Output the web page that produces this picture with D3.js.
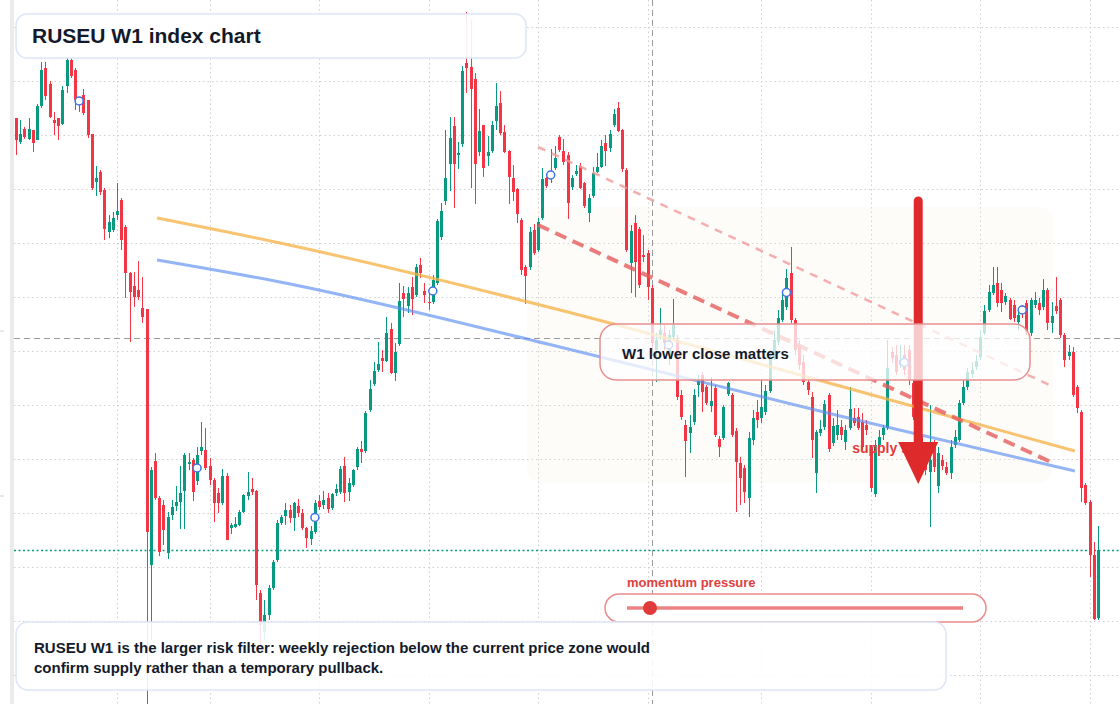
<!DOCTYPE html>
<html>
<head>
<meta charset="utf-8">
<script src="https://cdn.jsdelivr.net/npm/d3@7"></script>
<style>
  html, body { margin: 0; padding: 0; background: #fff; }
  svg { display: block; font-family: "Liberation Sans", Arial, sans-serif; }
</style>
</head>
<body>
<svg id="chart" width="1120" height="704"></svg>
<script>
// weekly candles, [open, high, low, close] in index points
const candles = [
  [882,882,845,860],[858,880,856,866],[871,873,861,863],[861,882,860,871],[870,870,848,857],
  [860,896,860,894],[894,938,892,930],[932,938,900,904],[916,919,882,883],[880,888,865,877],
  [882,882,860,874],[876,914,875,910],[914,942,907,940],[940,942,922,924],[930,932,890,900],
  [903,903,888,895],[905,911,885,887],[900,900,862,865],[866,866,810,812],[818,834,804,822],
  [828,830,805,808],[810,812,760,771],[768,785,762,778],[770,788,768,782],[785,817,780,789],
  [800,802,750,760],[773,775,702,727],[727,728,658,708],[714,728,693,703],[710,739,700,703],
  [692,723,677,683],[691,691,280,468],[435,533,360,530],[539,547,500,502],[502,504,444,448],
  [495,500,455,470],[447,488,441,483],[485,500,480,493],[494,514,489,498],[498,534,471,507],
  [509,547,471,545],[536,547,530,538],[540,542,499,508],[519,553,515,545],[549,578,545,553],
  [550,572,530,532],[534,542,515,520],[520,522,478,497],[507,512,487,497],[497,531,495,524],
  [524,527,460,460],[472,477,466,475],[473,483,472,476],[475,490,474,488],[488,506,487,505],
  [504,528,500,508],[511,522,505,508],[509,510,400,415],[407,410,350,375],[368,400,360,385],
  [385,415,380,412],[412,440,410,438],[440,480,438,477],[477,485,475,483],[484,497,475,490],
  [490,495,477,482],[482,498,469,497],[494,501,483,487],[487,491,470,472],[472,473,452,462],
  [461,474,455,469],[468,500,466,497],[499,505,490,493],[495,509,491,500],[502,507,487,491],
  [492,507,490,506],[507,516,504,511],[508,534,506,531],[534,543,498,507],[508,522,499,517],
  [515,531,513,530],[533,553,530,551],[551,559,537,548],[549,589,547,587],[590,620,588,611],
  [616,638,614,629],[630,658,628,636],[642,650,628,639],[639,683,638,667],[671,677,626,627],
  [627,657,619,648],[656,717,654,699],[707,714,683,701],[694,713,687,707],[713,723,685,701],
  [705,736,703,733],[735,742,722,727],[709,717,697,705],[698,708,690,697],[698,725,696,720],
  [717,781,715,779],[763,797,760,789],[799,870,795,822],[836,883,809,862],[874,883,792,836],
  [845,858,831,847],[856,934,853,929],[937,988,907,932],[933,981,812,911],[921,927,796,836],
  [848,891,844,869],[875,875,823,832],[844,864,834,848],[849,879,847,875],[879,917,870,894],
  [897,909,865,867],[868,875,847,848],[849,850,796,823],[822,835,799,808],[811,812,777,786],
  [780,782,725,730],[733,735,696,724],[733,773,730,768],[770,776,745,747],[750,782,748,778],
  [782,832,780,821],[822,823,812,814],[822,851,817,828],[832,854,830,842],[863,865,848,850],
  [849,861,835,838],[845,848,781,797],[813,825,810,822],[826,835,824,829],[834,837,811,812],
  [817,818,792,794],[787,806,778,802],[804,833,802,827],[828,847,827,833],[833,860,832,854],
  [857,865,834,849],[852,870,848,866],[875,891,873,886],[892,898,868,869],[870,871,828,831],
  [830,832,748,750],[737,775,707,769],[777,785,703,738],[771,773,712,715],[745,765,738,743],
  [747,750,700,713],[712,715,650,657],[650,667,618,660],[665,692,660,670],[667,675,650,657],
  [645,670,635,665],[663,701,660,675],[660,665,600,603],[605,610,580,583],[575,580,523,559],
  [567,585,547,573],[578,611,575,605],[615,625,603,619],[625,628,588,608],[613,615,595,597],
  [594,623,588,599],[612,615,563,565],[561,564,543,553],[562,595,560,593],[606,618,604,617],
  [605,607,563,565],[569,572,488,538],[537,543,495,522],[532,535,497,508],[502,568,483,562],
  [560,590,555,582],[588,600,572,580],[582,621,577,593],[588,615,585,609],[609,650,607,643],
  [642,670,640,660],[658,690,655,682],[680,710,678,700],[693,731,690,722],[727,753,677,680],
  [680,682,645,650],[655,660,630,635],[638,645,615,618],[618,622,605,610],[603,608,542,560],
  [527,570,507,568],[567,580,564,571],[573,600,570,596],[605,607,548,551],[557,582,554,574],
  [565,590,560,575],[573,580,560,565],[558,575,550,570],[572,613,570,591],[582,592,574,577],
  [583,592,570,572],[578,587,550,553],[575,580,565,570],[553,555,508,512],[506,560,503,555],
  [555,570,550,563],[565,575,560,572],[572,660,570,632],[648,653,637,642],[645,655,625,628],
  [635,655,632,640],[645,655,625,630],[650,655,615,620],[617,620,580,583],[583,585,555,560],
  [563,570,530,540],[545,550,525,530],[528,595,473,540],[557,560,528,533],[514,553,507,547],
  [540,545,530,534],[533,538,525,527],[527,560,521,553],[555,570,552,563],[560,600,558,597],
  [597,620,595,613],[613,632,610,628],[626,638,622,630],[633,645,630,639],[643,670,640,663],
  [667,695,665,689],[690,715,688,708],[707,733,705,715],[717,733,693,697],[710,717,688,697],
  [698,707,695,704],[700,702,680,681],[695,700,678,682],[678,690,670,685],[692,695,682,688],
  [697,700,665,668],[667,702,664,700],[695,708,692,700],[697,702,685,690],[693,721,690,710],
  [710,712,670,677],[677,698,667,684],[694,723,686,689],[700,702,662,665],[665,667,633,640],
  [644,655,640,648],[648,653,603,605],[613,615,587,592],[588,590,498,512],[515,517,495,497],
  [498,500,423,445],[445,458,380,381],[382,474,380,450]
];

// half-year time ticks (candle index) and price grid levels
const gridIdx = [24, 46, 72, 98, 124, 150, 177, 203, 229, 255];
const gridPrices = [973, 919, 865, 811, 757, 703, 649, 595, 541, 487, 433, 379, 325];

// markers on every 4th weekly cycle
const markerIdx = [15, 43, 71, 99, 127, 155, 183, 211, 239];

// overlays, [candle index, price]
const yellowLine = [[33.5, 782], [62.7, 757], [129.2, 690], [195.7, 614], [251.5, 549]];
const blueLine = [[33.5, 740], [62.7, 718], [129.2, 653], [195.7, 584], [251.5, 529]];
const upperDash = [[124, 853], [246, 614]];
const lowerDash = [[124, 775], [246.3, 537]];
const zoneIdx = [121.4, 246.3];
const zonePrices = [517, 793];
const crossIdx = 151;
const crossPrice = 662;
const arrowIdx = 214.3;
const arrowPrices = [803, 516];
const supplyLabel = { idx: 198.6, price: 547, text: 'supply side' };

const W = 1120, H = 704;
const GREEN = '#089981', RED = '#f23645';

const svg = d3.select('#chart');

const x = d3.scaleLinear().domain([0, candles.length - 1]).range([16, 1098]);
const y = d3.scaleLinear().domain([296, 1000]).range([H, 0]);

// grid
const grid = svg.append('g');
grid.selectAll('.gv').data(gridIdx).enter().append('line')
  .attr('class', 'gv')
  .attr('x1', d => Math.round(x(d)) + 0.5).attr('x2', d => Math.round(x(d)) + 0.5)
  .attr('y1', 0).attr('y2', H)
  .attr('stroke', '#cfcfcf').attr('stroke-dasharray', '1.5,3');
grid.selectAll('.gh').data(gridPrices).enter().append('line')
  .attr('class', 'gh')
  .attr('x1', 14).attr('x2', W)
  .attr('y1', d => Math.round(y(d)) + 0.5).attr('y2', d => Math.round(y(d)) + 0.5)
  .attr('stroke', '#cfcfcf').attr('stroke-dasharray', '1.5,3');

// left strip + stray axis ticks
svg.append('rect').attr('x', 10).attr('y', 0).attr('width', 4).attr('height', H).attr('fill', '#ebebeb');
[331, 496].forEach(v => {
  svg.append('line').attr('x1', 0).attr('x2', 4).attr('y1', v).attr('y2', v)
    .attr('stroke', '#d0d0d0');
});

// shaded zone
svg.append('rect')
  .attr('x', x(zoneIdx[0])).attr('width', x(zoneIdx[1]) - x(zoneIdx[0]))
  .attr('y', y(zonePrices[1])).attr('height', y(zonePrices[0]) - y(zonePrices[1]))
  .attr('rx', 14)
  .attr('fill', '#f7ebdc').attr('opacity', 0.16);

// crosshair
svg.append('line')
  .attr('x1', Math.round(x(crossIdx)) + 0.5).attr('x2', Math.round(x(crossIdx)) + 0.5)
  .attr('y1', 0).attr('y2', H)
  .attr('stroke', '#9a9a9a').attr('stroke-dasharray', '6,4');
svg.append('line')
  .attr('x1', 14).attr('x2', W)
  .attr('y1', Math.round(y(crossPrice)) + 0.5).attr('y2', Math.round(y(crossPrice)) + 0.5)
  .attr('stroke', '#9a9a9a').attr('stroke-dasharray', '6,4');

// last price line
const last = candles[candles.length - 1];
svg.append('line')
  .attr('x1', 14).attr('x2', W)
  .attr('y1', Math.round(y(last[3])) + 0.5).attr('y2', Math.round(y(last[3])) + 0.5)
  .attr('stroke', GREEN).attr('stroke-width', 1.5).attr('stroke-dasharray', '2,2.5');

// candles
const up = d => d[3] >= d[0];
const cg = svg.append('g').attr('shape-rendering', 'crispEdges');
cg.selectAll('.wick').data(candles).enter().append('line')
  .attr('class', 'wick')
  .attr('x1', (d, i) => Math.round(x(i)) + 0.5).attr('x2', (d, i) => Math.round(x(i)) + 0.5)
  .attr('y1', d => y(d[1])).attr('y2', d => y(d[2]))
  .attr('stroke', d => up(d) ? GREEN : RED);
cg.selectAll('.body').data(candles).enter().append('rect')
  .attr('class', 'body')
  .attr('x', (d, i) => Math.round(x(i)) - 1)
  .attr('width', 3)
  .attr('y', d => y(Math.max(d[0], d[3])))
  .attr('height', d => Math.max(1, Math.abs(y(d[0]) - y(d[3]))))
  .attr('fill', d => up(d) ? GREEN : RED);

// trend lines
const line = d3.line().x(d => x(d[0])).y(d => y(d[1])).curve(d3.curveMonotoneX);
svg.append('path').attr('d', line(yellowLine))
  .attr('fill', 'none').attr('stroke', '#f5b041').attr('stroke-width', 3).attr('opacity', 0.75);
svg.append('path').attr('d', line(blueLine))
  .attr('fill', 'none').attr('stroke', '#5b8def').attr('stroke-width', 3).attr('opacity', 0.65);
svg.append('path').attr('d', line(upperDash))
  .attr('fill', 'none').attr('stroke', '#f09a9a').attr('stroke-width', 2.5)
  .attr('stroke-dasharray', '8,7').attr('opacity', 0.8);
svg.append('path').attr('d', line(lowerDash))
  .attr('fill', 'none').attr('stroke', '#e55b5b').attr('stroke-width', 4)
  .attr('stroke-dasharray', '12,7').attr('opacity', 0.8);

// markers
svg.selectAll('.mk').data(markerIdx).enter().append('circle')
  .attr('class', 'mk')
  .attr('cx', d => x(d))
  .attr('cy', d => y((candles[d][0] + candles[d][3]) / 2))
  .attr('r', 4)
  .attr('fill', '#fff').attr('stroke', '#3d74e6').attr('stroke-width', 1.5);

// supply label
svg.append('text')
  .attr('x', x(supplyLabel.idx)).attr('y', y(supplyLabel.price))
  .attr('fill', '#e03a3a').attr('font-size', 14).attr('font-weight', 700)
  .text(supplyLabel.text);

// big arrow
const ax = x(arrowIdx);
const aTop = y(arrowPrices[0]), aTip = y(arrowPrices[1]);
svg.append('line')
  .attr('x1', ax).attr('x2', ax).attr('y1', aTop + 4).attr('y2', aTip - 38)
  .attr('stroke', '#de2a2a').attr('stroke-width', 9).attr('stroke-linecap', 'round');
svg.append('path')
  .attr('d', `M${ax - 20},${aTip - 42}L${ax + 20},${aTip - 42}L${ax},${aTip}Z`)
  .attr('fill', '#de2a2a');

// title box
svg.append('rect').attr('x', 16).attr('y', 14).attr('width', 510).attr('height', 44).attr('rx', 11)
  .attr('fill', '#fff').attr('fill-opacity', 0.9).attr('stroke', '#dbe6f8').attr('stroke-width', 1.5);
svg.append('text').attr('x', 32).attr('y', 43)
  .attr('font-size', 21).attr('font-weight', 700).attr('fill', '#131a2a')
  .text('RUSEU W1 index chart');

// callout box
svg.append('rect').attr('x', 600).attr('y', 324).attr('width', 430).attr('height', 56).attr('rx', 16)
  .attr('fill', '#fff').attr('fill-opacity', 0.75).attr('stroke', '#e88f8f').attr('stroke-width', 1.5);
svg.append('text').attr('x', 622).attr('y', 359)
  .attr('font-size', 15).attr('font-weight', 700).attr('fill', '#131a2a')
  .text('W1 lower close matters');

// momentum pill
svg.append('text').attr('x', 627).attr('y', 587)
  .attr('font-size', 13).attr('font-weight', 700).attr('fill', '#e04040')
  .text('momentum pressure');
svg.append('rect').attr('x', 605).attr('y', 594).attr('width', 381).attr('height', 28).attr('rx', 14)
  .attr('fill', '#fff').attr('fill-opacity', 0.9).attr('stroke', '#ea8c8c').attr('stroke-width', 1.5);
svg.append('line').attr('x1', 627).attr('x2', 963).attr('y1', 608).attr('y2', 608)
  .attr('stroke', '#ec8383').attr('stroke-width', 3.5);
svg.append('circle').attr('cx', 650).attr('cy', 608).attr('r', 7).attr('fill', '#e03a3a');

// bottom note
svg.append('rect').attr('x', 16).attr('y', 622).attr('width', 930).attr('height', 68).attr('rx', 12)
  .attr('fill', '#fff').attr('fill-opacity', 0.88).attr('stroke', '#dbe6f8').attr('stroke-width', 1.5);
const note = svg.append('text').attr('font-size', 15).attr('font-weight', 700).attr('fill', '#131a2a');
note.append('tspan').attr('x', 34).attr('y', 653)
  .text('RUSEU W1 is the larger risk filter: weekly rejection below the current price zone would');
note.append('tspan').attr('x', 34).attr('y', 673)
  .text('confirm supply rather than a temporary pullback.');
</script>
</body>
</html>
